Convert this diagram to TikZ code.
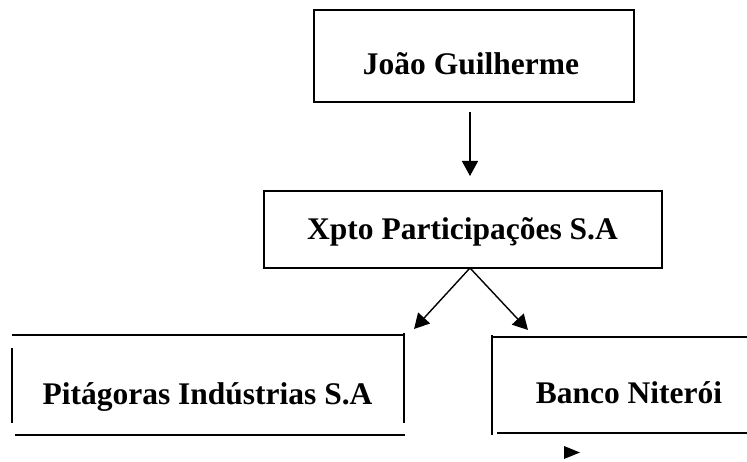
\documentclass[tikz,border=0pt]{standalone}
\usepackage{fontspec}
\setmainfont{Liberation Serif}
\usetikzlibrary{arrows.meta}
\tikzset{
  boxline/.style={line width=1.6pt, black},
  frame/.style={draw, line width=1.6pt, inner sep=0pt},
  lbl/.style={font=\fontsize{31.5}{36}\selectfont\bfseries, inner sep=0pt, anchor=base},
  conn/.style={line width=1.4pt, -{Triangle[width=16pt,length=15pt]}},
}
\begin{document}
\begin{tikzpicture}[x=1pt,y=-1pt]
\useasboundingbox (0,0) rectangle (747,462);
% top boxes
\node[frame, minimum width=320pt, minimum height=92pt] (jgbox) at (474,56) {};
\node[lbl] (jg) at (471,75) {João Guilherme};
\node[frame, minimum width=398pt, minimum height=77pt] (xpbox) at (463,229.5) {};
\node[lbl] (xp) at (462.5,240) {Xpto Participações S.A};
% bottom labels
\node[lbl] (pit) at (207.5,404) {Pitágoras Indústrias S.A};
\node[lbl] (bn) at (629,403) {Banco Niterói};
% coordinates
\coordinate (jgs) at (470,112);
\coordinate (xpt) at (470,176);
\coordinate (xps) at (470,268);
\coordinate (pitt) at (414,329);
\coordinate (bnt) at (528,330);
% connectors
\draw[conn] (jgs) -- (xpt);
\draw[conn] (xps) -- (pitt);
\draw[conn] (xps) -- (bnt);
% Pitagoras partial frame
\draw[boxline] (12,335) -- (403,335);
\draw[boxline] (12,348) -- (12,423);
\draw[boxline] (404,333) -- (404,423);
\draw[boxline] (15,435) -- (405,435);
% Banco partial frame
\draw[boxline] (492,337) -- (747,337);
\draw[boxline] (492,335) -- (492,435);
\draw[boxline] (497,433) -- (747,433);
% stray arrowhead
\fill[black] (564,446) -- (580,452.5) -- (564,459) -- cycle;
\end{tikzpicture}
\end{document}
